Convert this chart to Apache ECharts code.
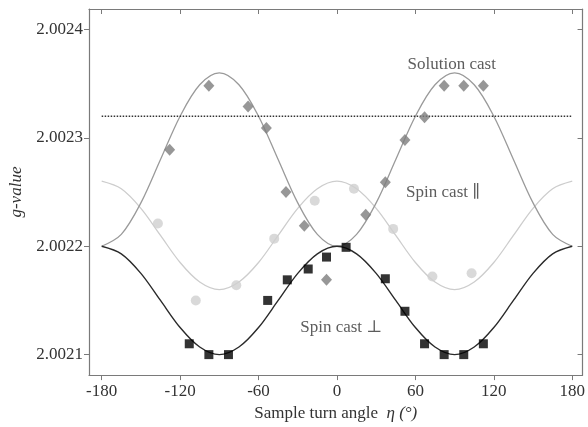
<!DOCTYPE html>
<html>
<head>
<meta charset="utf-8">
<script src="https://cdn.jsdelivr.net/npm/echarts@6/dist/echarts.min.js"></script>
<style>
  html, body { margin: 0; padding: 0; background: #fff; }
  #chart { width: 588px; height: 427px; }
</style>
</head>
<body>
<div id="chart"></div>
<script>
// Angular dependence of the g-value for three cast films.
const curveAngles = [-180, -165, -150, -135, -120, -105, -90, -75, -60, -45, -30, -15, 0,
                     15, 30, 45, 60, 75, 90, 105, 120, 135, 150, 165, 180];

// Fitted curves, sampled every 15°
const solutionCurve = [2.002200, 2.002211, 2.002240, 2.002280, 2.002320, 2.002349, 2.002360,
                       2.002349, 2.002320, 2.002280, 2.002240, 2.002211, 2.002200,
                       2.002211, 2.002240, 2.002280, 2.002320, 2.002349, 2.002360,
                       2.002349, 2.002320, 2.002280, 2.002240, 2.002211, 2.002200];
const parallelCurve = [2.002260, 2.002253, 2.002235, 2.002210, 2.002185, 2.002167, 2.002160,
                       2.002167, 2.002185, 2.002210, 2.002235, 2.002253, 2.002260,
                       2.002253, 2.002235, 2.002210, 2.002185, 2.002167, 2.002160,
                       2.002167, 2.002185, 2.002210, 2.002235, 2.002253, 2.002260];
const perpCurve = [2.002200, 2.002193, 2.002175, 2.002150, 2.002125, 2.002107, 2.002100,
                   2.002107, 2.002125, 2.002150, 2.002175, 2.002193, 2.002200,
                   2.002193, 2.002175, 2.002150, 2.002125, 2.002107, 2.002100,
                   2.002107, 2.002125, 2.002150, 2.002175, 2.002193, 2.002200];

// Measured points
const solutionAngles = [-128, -98, -68, -54, -39, -25, -8, 22, 37, 52, 67, 82, 97, 112];
const solutionValues = [2.002289, 2.002348, 2.002329, 2.002309, 2.002250, 2.002219, 2.002169,
                        2.002229, 2.002259, 2.002298, 2.002319, 2.002348, 2.002348, 2.002348];
const parallelAngles = [-137, -108, -77, -48, -17, 13, 43, 73, 103];
const parallelValues = [2.002221, 2.002150, 2.002164, 2.002207, 2.002242, 2.002253,
                        2.002216, 2.002172, 2.002175];
const perpAngles = [-113, -98, -83, -53, -38, -22, -8, 7, 37, 52, 67, 82, 97, 112];
const perpValues = [2.002110, 2.002100, 2.002100, 2.002150, 2.002169, 2.002179, 2.002190,
                    2.002199, 2.002170, 2.002140, 2.002110, 2.002100, 2.002100, 2.002110];

// Isotropic level of the solution cast film
const solutionLevel = 2.00232;
const levelRange = [-180, 180];

// Axis ticks
const xTicks = [-180, -120, -60, 0, 60, 120, 180];
const yTicks = [2.0021, 2.0022, 2.0023, 2.0024];

// Curve annotations: text, angle, g-value
const notes = [
  ['Solution cast', 87.8, 2.0023677],
  ['Spin cast \u2225', 81.2, 2.0022491],
  ['Spin cast \u22A5', 3.3, 2.0021248]
];

const pairs = (xs, ys) => xs.map((x, i) => [x, ys[i]]);

const frame = '#7a7a7a';
const textColor = '#333333';
const serif = '"Liberation Serif", "DejaVu Serif", serif';

const chart = echarts.init(document.getElementById('chart'), null, { renderer: 'canvas' });

const baseX = {
  type: 'value', min: -189.7, max: 187.9,
  splitLine: { show: false },
  axisLine: { show: true, onZero: false, lineStyle: { color: frame, width: 1.2 } }
};
const baseY = {
  type: 'value', min: 2.0020811, max: 2.0024189,
  splitLine: { show: false },
  axisLine: { show: true, onZero: false, lineStyle: { color: frame, width: 1.2 } }
};

chart.setOption({
  animation: false,
  backgroundColor: '#fff',
  textStyle: { fontFamily: serif },
  grid: { left: 89, right: 5, top: 9, bottom: 42, containLabel: false },
  xAxis: [
    Object.assign({}, baseX, {
      position: 'bottom',
      name: '{n|Sample turn angle  }{e|\u03B7 (\u00B0)}',
      nameLocation: 'middle',
      nameGap: 19,
      nameTextStyle: {
        rich: {
          n: { fontFamily: serif, fontSize: 17, color: textColor },
          e: { fontFamily: serif, fontSize: 17, fontStyle: 'italic', color: textColor }
        }
      },
      axisTick: { show: true, inside: false, length: 5, customValues: xTicks,
                  lineStyle: { color: frame, width: 1 } },
      axisLabel: { show: true, customValues: xTicks, margin: 8,
                   fontFamily: serif, fontSize: 17, color: textColor,
                   formatter: v => String(v) }
    }),
    Object.assign({}, baseX, {
      position: 'top',
      axisTick: { show: true, inside: true, length: 5, customValues: xTicks,
                  lineStyle: { color: frame, width: 1 } },
      axisLabel: { show: false }
    })
  ],
  yAxis: [
    Object.assign({}, baseY, {
      position: 'left',
      name: 'g-value',
      nameLocation: 'middle',
      nameGap: 52,
      nameTextStyle: { fontFamily: serif, fontSize: 17, fontStyle: 'italic', color: textColor },
      axisTick: { show: true, inside: false, length: 5, customValues: yTicks,
                  lineStyle: { color: frame, width: 1 } },
      axisLabel: { show: true, customValues: yTicks, margin: 6,
                   fontFamily: serif, fontSize: 17, color: textColor,
                   formatter: v => v.toFixed(4) }
    }),
    Object.assign({}, baseY, {
      position: 'right',
      axisTick: { show: true, inside: true, length: 5, customValues: yTicks,
                  lineStyle: { color: frame, width: 1 } },
      axisLabel: { show: false }
    })
  ],
  series: [
    {
      name: 'parallel fit', type: 'line', smooth: 0.33, showSymbol: false,
      data: pairs(curveAngles, parallelCurve),
      lineStyle: { color: '#cdcdcd', width: 1.3 }, z: 2
    },
    {
      name: 'solution fit', type: 'line', smooth: 0.33, showSymbol: false,
      data: pairs(curveAngles, solutionCurve),
      lineStyle: { color: '#9a9a9a', width: 1.3 }, z: 2
    },
    {
      name: 'perpendicular fit', type: 'line', smooth: 0.33, showSymbol: false,
      data: pairs(curveAngles, perpCurve),
      lineStyle: { color: '#2a2a2a', width: 1.4 }, z: 2
    },
    {
      name: 'solution level', type: 'line', showSymbol: false,
      data: levelRange.map(x => [x, solutionLevel]),
      lineStyle: { color: '#333', width: 1.6, type: [1.5, 1.5] }, z: 2
    },
    {
      name: 'Spin cast parallel', type: 'scatter', symbol: 'circle', symbolSize: 10,
      data: pairs(parallelAngles, parallelValues),
      itemStyle: { color: '#cfcfcf' }, z: 3
    },
    {
      name: 'Solution cast', type: 'scatter', symbol: 'diamond', symbolSize: [11, 12],
      data: pairs(solutionAngles, solutionValues),
      itemStyle: { color: '#7d7d7d' }, z: 4
    },
    {
      name: 'Spin cast perpendicular', type: 'scatter', symbol: 'rect', symbolSize: 9,
      data: pairs(perpAngles, perpValues),
      itemStyle: { color: '#000000' }, z: 5
    },
    {
      name: 'labels', type: 'scatter', symbolSize: 0, silent: true,
      data: notes.map(n => ({ name: n[0], value: [n[1], n[2]] })),
      label: {
        show: true, position: 'inside', formatter: p => p.name,
        fontFamily: serif, fontSize: 17, color: textColor
      }, z: 6
    }
  ]
});
</script>
</body>
</html>
